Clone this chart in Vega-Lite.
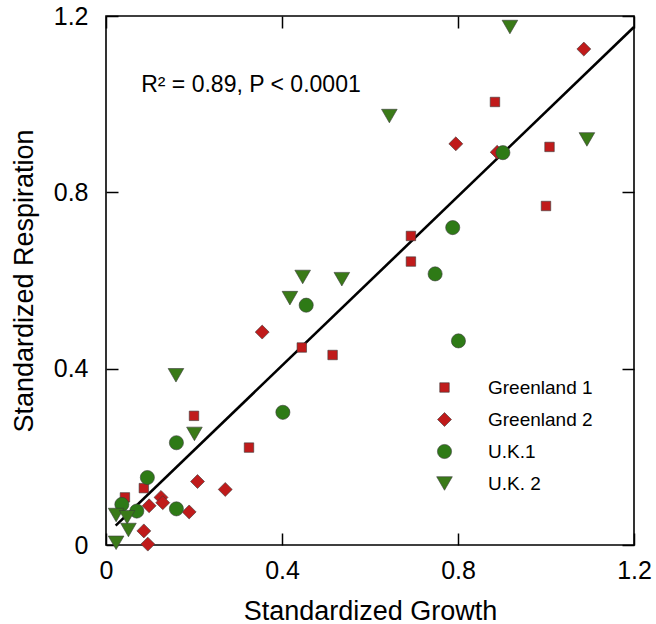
{
  "$schema": "https://vega.github.io/schema/vega-lite/v6.json",
  "autosize": {"type": "none"},
  "padding": {"left": 106, "top": 16, "right": 22, "bottom": 79},
  "width": 528,
  "height": 529,
  "config": {
    "font": "Liberation Sans",
    "view": {"stroke": "#000", "strokeWidth": 1.6},
    "axis": {"grid": false, "domain": false, "ticks": true, "tickSize": -12, "tickColor": "#000", "tickWidth": 1.5, "labelColor": "#000", "titleColor": "#000", "labelFontSize": 25, "titleFontSize": 27, "titleFontWeight": "normal", "labelFlush": false}
  },
  "datasets": {
    "pts": [
      {"series": "Greenland 1", "growth": 0.043, "resp": 0.108},
      {"series": "Greenland 1", "growth": 0.086, "resp": 0.129},
      {"series": "Greenland 1", "growth": 0.200, "resp": 0.293},
      {"series": "Greenland 1", "growth": 0.325, "resp": 0.221},
      {"series": "Greenland 1", "growth": 0.445, "resp": 0.448},
      {"series": "Greenland 1", "growth": 0.515, "resp": 0.431},
      {"series": "Greenland 1", "growth": 0.693, "resp": 0.701},
      {"series": "Greenland 1", "growth": 0.693, "resp": 0.643},
      {"series": "Greenland 1", "growth": 0.884, "resp": 1.005},
      {"series": "Greenland 1", "growth": 1.008, "resp": 0.903},
      {"series": "Greenland 1", "growth": 1.000, "resp": 0.769},
      {"series": "Greenland 2", "growth": 0.098, "resp": 0.089},
      {"series": "Greenland 2", "growth": 0.125, "resp": 0.108},
      {"series": "Greenland 2", "growth": 0.129, "resp": 0.096},
      {"series": "Greenland 2", "growth": 0.086, "resp": 0.032},
      {"series": "Greenland 2", "growth": 0.095, "resp": 0.002},
      {"series": "Greenland 2", "growth": 0.189, "resp": 0.075},
      {"series": "Greenland 2", "growth": 0.208, "resp": 0.144},
      {"series": "Greenland 2", "growth": 0.271, "resp": 0.126},
      {"series": "Greenland 2", "growth": 0.355, "resp": 0.483},
      {"series": "Greenland 2", "growth": 0.795, "resp": 0.910},
      {"series": "Greenland 2", "growth": 0.889, "resp": 0.891},
      {"series": "Greenland 2", "growth": 1.086, "resp": 1.125},
      {"series": "U.K.1", "growth": 0.036, "resp": 0.092},
      {"series": "U.K.1", "growth": 0.070, "resp": 0.077},
      {"series": "U.K.1", "growth": 0.094, "resp": 0.153},
      {"series": "U.K.1", "growth": 0.160, "resp": 0.232},
      {"series": "U.K.1", "growth": 0.160, "resp": 0.082},
      {"series": "U.K.1", "growth": 0.402, "resp": 0.301},
      {"series": "U.K.1", "growth": 0.455, "resp": 0.544},
      {"series": "U.K.1", "growth": 0.748, "resp": 0.615},
      {"series": "U.K.1", "growth": 0.788, "resp": 0.720},
      {"series": "U.K.1", "growth": 0.801, "resp": 0.463},
      {"series": "U.K.1", "growth": 0.902, "resp": 0.890},
      {"series": "U.K. 2", "growth": 0.023, "resp": 0.068},
      {"series": "U.K. 2", "growth": 0.048, "resp": 0.063},
      {"series": "U.K. 2", "growth": 0.051, "resp": 0.034},
      {"series": "U.K. 2", "growth": 0.023, "resp": 0.005},
      {"series": "U.K. 2", "growth": 0.159, "resp": 0.385},
      {"series": "U.K. 2", "growth": 0.201, "resp": 0.252},
      {"series": "U.K. 2", "growth": 0.447, "resp": 0.608},
      {"series": "U.K. 2", "growth": 0.536, "resp": 0.603},
      {"series": "U.K. 2", "growth": 0.418, "resp": 0.560},
      {"series": "U.K. 2", "growth": 0.644, "resp": 0.973},
      {"series": "U.K. 2", "growth": 0.918, "resp": 1.175},
      {"series": "U.K. 2", "growth": 1.093, "resp": 0.920}
    ],
    "fit": [
      {"growth": 0.022, "resp": 0.044},
      {"growth": 1.2, "resp": 1.175}
    ],
    "note": [
      {"growth": 0.08, "resp": 1.043, "label": "R² = 0.89, P < 0.0001"}
    ]
  },
  "layer": [
    {
      "data": {"name": "fit"},
      "mark": {"type": "line", "color": "#000", "strokeWidth": 2.6},
      "encoding": {
        "x": {"field": "growth", "type": "quantitative", "scale": {"domain": [0, 1.2], "nice": false, "zero": false}, "axis": {"values": [0, 0.4, 0.8, 1.2], "title": "Standardized Growth", "labelPadding": 25, "titlePadding": 15, "labelExpr": "datum.value == 0 ? '0' : format(datum.value, '.1f')"}},
        "y": {"field": "resp", "type": "quantitative", "scale": {"domain": [0, 1.2], "nice": false, "zero": false}, "axis": {"values": [0, 0.4, 0.8, 1.2], "title": "Standardized Respiration", "labelPadding": 30, "titlePadding": 15, "labelExpr": "datum.value == 0 ? '0' : format(datum.value, '.1f')"}}
      }
    },
    {
      "data": {"name": "pts"},
      "mark": {"type": "point", "filled": true, "opacity": 1, "stroke": "#3a3a3a", "strokeWidth": 0.6},
      "encoding": {
        "x": {"field": "growth", "type": "quantitative", "axis": {"orient": "top", "values": [0, 0.4, 0.8, 1.2], "labels": false, "title": null}},
        "y": {"field": "resp", "type": "quantitative", "axis": {"orient": "right", "values": [0, 0.4, 0.8, 1.2], "labels": false, "title": null}},
        "color": {"field": "series", "type": "nominal", "scale": {"domain": ["Greenland 1", "Greenland 2", "U.K.1", "U.K. 2"], "range": ["#c01b1b", "#c01b1b", "#2e7a16", "#3a7a18"]}, "legend": {"title": null, "orient": "none", "legendX": 329, "legendY": 362, "labelFontSize": 19, "labelOffset": 34, "rowPadding": 12, "padding": 0, "symbolStrokeColor": "#3a3a3a", "symbolStrokeWidth": 0.6, "labelColor": "#000"}},
        "shape": {"field": "series", "type": "nominal", "scale": {"domain": ["Greenland 1", "Greenland 2", "U.K.1", "U.K. 2"], "range": ["square", "diamond", "circle", "triangle-down"]}},
        "size": {"field": "series", "type": "nominal", "scale": {"type": "ordinal", "domain": ["Greenland 1", "Greenland 2", "U.K.1", "U.K. 2"], "range": [90, 195, 200, 245]}}
      }
    },
    {
      "data": {"name": "note"},
      "mark": {"type": "text", "align": "left", "baseline": "middle", "fontSize": 23, "color": "#000"},
      "encoding": {
        "x": {"field": "growth", "type": "quantitative", "axis": null},
        "y": {"field": "resp", "type": "quantitative", "axis": null},
        "text": {"field": "label"}
      }
    }
  ],
  "resolve": {"axis": {"x": "independent", "y": "independent"}}
}
